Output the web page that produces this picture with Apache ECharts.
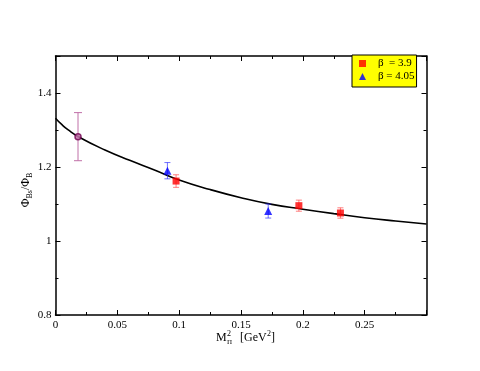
<!DOCTYPE html>
<html>
<head>
<meta charset="utf-8">
<script src="https://cdn.jsdelivr.net/npm/echarts@6/dist/echarts.min.js"></script>
<style>
html,body{margin:0;padding:0;background:#fff;}
#main{width:480px;height:371px;}
</style>
</head>
<body>
<div id="main"></div>
<script>
'use strict';

// fit curve
var curveX = [0, 0.005, 0.01, 0.02, 0.04, 0.06, 0.08, 0.1, 0.125, 0.15, 0.175, 0.2, 0.225, 0.25, 0.275, 0.3];
var curveY = [1.332, 1.315, 1.301, 1.279, 1.246, 1.218, 1.192, 1.165, 1.139, 1.117, 1.099, 1.086, 1.074, 1.063, 1.054, 1.046];

// beta = 3.9 (red squares)
var b39X = [0.0975, 0.1968, 0.2304];
var b39Y = [1.162, 1.0955, 1.0757];
var b39Err = [0.017, 0.015, 0.014];

// beta = 4.05 (blue triangles)
var b405X = [0.0905, 0.172];
var b405Y = [1.19, 1.081];
var b405Err = [0.022, 0.019];

// extrapolated point
var physX = [0.0182];
var physY = [1.282];
var physErr = [0.065];

var FONT = '"Liberation Serif", "DejaVu Serif", serif';

function pairs(xs, ys) {
	var out = [];
	for (var i = 0; i < xs.length; i++) out.push([xs[i], ys[i]]);
	return out;
}
function errData(xs, ys, es) {
	var out = [];
	for (var i = 0; i < xs.length; i++) out.push([xs[i], ys[i] - es[i], ys[i] + es[i]]);
	return out;
}
function errSeries(data, color, cap) {
	return {
		type: 'custom',
		xAxisIndex: 0, yAxisIndex: 0,
		data: data,
		z: 3,
		silent: true,
		renderItem: function(params, api) {
			var lo = api.coord([api.value(0), api.value(1)]);
			var hi = api.coord([api.value(0), api.value(2)]);
			var st = {stroke: color, lineWidth: 1};
			return {
				type: 'group',
				children: [
					{type: 'line', shape: {x1: lo[0], y1: lo[1], x2: hi[0], y2: hi[1]}, style: st},
					{type: 'line', shape: {x1: lo[0] - cap, y1: lo[1], x2: lo[0] + cap, y2: lo[1]}, style: st},
					{type: 'line', shape: {x1: hi[0] - cap, y1: hi[1], x2: hi[0] + cap, y2: hi[1]}, style: st}
				]
			};
		}
	};
}

var axisCommon = {
	axisLine: {show: true, onZero: false, lineStyle: {color: '#000', width: 1.5}},
	axisTick: {show: true, inside: true, length: 5, lineStyle: {color: '#000', width: 1}},
	minorTick: {show: true, splitNumber: 2, length: 3, lineStyle: {color: '#000', width: 1}},
	splitLine: {show: false},
	minorSplitLine: {show: false}
};

function xAxis(pos, labels) {
	return Object.assign({}, axisCommon, {
		type: 'value', position: pos, min: 0, max: 0.3, interval: 0.05,
		axisLabel: {show: labels, showMaxLabel: false, color: '#000', fontFamily: FONT, fontSize: 11, margin: 5}
	});
}
function yAxis(pos, labels) {
	return Object.assign({}, axisCommon, {
		type: 'value', position: pos, min: 0.8, max: 1.5, interval: 0.2,
		axisLabel: {show: labels, showMaxLabel: false, color: '#000', fontFamily: FONT, fontSize: 11, margin: 4}
	});
}

var chart = echarts.init(document.getElementById('main'));
chart.setOption({
	animation: false,
	backgroundColor: '#fff',
	grid: {left: 55.5, right: 53.5, top: 56, bottom: 56},
	xAxis: [xAxis('bottom', true), xAxis('top', false)],
	yAxis: [yAxis('left', true), yAxis('right', false)],
	legend: {
		orient: 'vertical',
		left: 352, top: 55,
		backgroundColor: '#ffff00',
		borderColor: '#000', borderWidth: 1,
		borderRadius: 0,
		padding: [2, 2, 4, 7],
		itemGap: 0,
		itemWidth: 7, itemHeight: 7,
		textStyle: {color: '#000', fontFamily: FONT, fontSize: 11, lineHeight: 13, padding: [0, 0, 0, 7]},
		data: ['β  = 3.9', 'β = 4.05']
	},
	series: [
		{
			type: 'line',
			data: pairs(curveX, curveY),
			smooth: true,
			showSymbol: false,
			silent: true,
			lineStyle: {color: '#000', width: 1.6},
			z: 2
		},
		errSeries(errData(b39X, b39Y, b39Err), 'rgba(255,60,60,0.65)', 3),
		errSeries(errData(b405X, b405Y, b405Err), 'rgba(40,40,255,0.65)', 3),
		errSeries(errData(physX, physY, physErr), '#c070a8', 4),
		{
			name: 'β  = 3.9',
			type: 'scatter',
			symbol: 'rect',
			symbolSize: 7,
			itemStyle: {color: '#ff0000'},
			data: pairs(b39X, b39Y),
			z: 4
		},
		{
			name: 'β = 4.05',
			type: 'scatter',
			symbol: 'triangle',
			symbolSize: 8,
			itemStyle: {color: '#0000ff'},
			data: pairs(b405X, b405Y),
			z: 4
		},
		{
			type: 'scatter',
			symbol: 'circle',
			symbolSize: 6,
			itemStyle: {color: '#c070a8', borderColor: '#700050', borderWidth: 1.5},
			data: pairs(physX, physY),
			z: 4
		}
	],
	graphic: [
		// y axis title  Phi_Bs / Phi_B
		{
			type: 'text',
			x: 27, y: 190,
			rotation: Math.PI / 2,
			style: {
				text: '{a|Φ}{s|Bs}{a|/Φ}{s|B}',
				align: 'center', verticalAlign: 'middle',
				rich: {
					a: {fontFamily: FONT, fontSize: 12, fill: '#000', verticalAlign: 'top'},
					s: {fontFamily: FONT, fontSize: 8, fill: '#000', verticalAlign: 'bottom', padding: [6, 0, 0, 0]}
				}
			}
		},
		// x axis title  M^2_Pi [GeV^2]
		{
			type: 'group',
			x: 216, y: 332,
			children: [
				{type: 'text', x: 0, y: 0, style: {text: 'M', fontFamily: FONT, fontSize: 12, fill: '#000'}},
				{type: 'text', x: 11, y: -2, style: {text: '2', fontFamily: FONT, fontSize: 8, fill: '#000'}},
				{type: 'text', x: 11, y: 7, style: {text: 'Π', fontFamily: FONT, fontSize: 7, fill: '#000'}},
				{type: 'text', x: 24, y: 0, style: {text: '[GeV', fontFamily: FONT, fontSize: 12, fill: '#000'}},
				{type: 'text', x: 51, y: -2, style: {text: '2', fontFamily: FONT, fontSize: 8, fill: '#000'}},
				{type: 'text', x: 55, y: 0, style: {text: ']', fontFamily: FONT, fontSize: 12, fill: '#000'}}
			]
		}
	]
});
</script>
</body>
</html>
